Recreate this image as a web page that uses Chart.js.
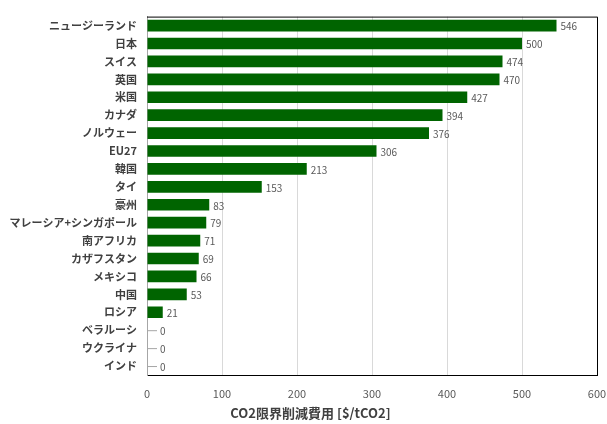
<!DOCTYPE html>
<html>
<head>
<meta charset="utf-8">
<script src="https://cdn.jsdelivr.net/npm/chart.js@4"></script>
<style>
  body { margin: 0; background: #fff; }
  #wrap { width: 607px; height: 424px; }
</style>
</head>
<body>
<div id="wrap"><canvas id="co2Chart"></canvas></div>
<script>
const countries = ['ニュージーランド', '日本', 'スイス', '英国', '米国', 'カナダ', 'ノルウェー', 'EU27', '韓国', 'タイ',
  '豪州', 'マレーシア+シンガポール', '南アフリカ', 'カザフスタン', 'メキシコ', '中国', 'ロシア', 'ベラルーシ', 'ウクライナ', 'インド'];
const costs = [546, 500, 474, 470, 427, 394, 376, 306, 213, 153, 83, 79, 71, 69, 66, 53, 21, 0, 0, 0];
const xTicks = [0, 100, 200, 300, 400, 500, 600];
const axisTitle = 'CO2限界削減費用 [$/tCO2]';

const FONT = '"Noto Sans CJK JP", "Noto Sans", sans-serif';

// value labels at the end of each bar, with a short leader for zero bars
const barLabels = {
  id: 'barLabels',
  afterDatasetsDraw(chart) {
    const ctx = chart.ctx;
    const meta = chart.getDatasetMeta(0);
    ctx.save();
    ctx.font = '10px ' + FONT;
    ctx.fillStyle = '#595959';
    ctx.textBaseline = 'middle';
    meta.data.forEach((bar, i) => {
      const v = costs[i];
      let x = bar.x + 4;
      if (v === 0) {
        ctx.strokeStyle = '#a6a6a6';
        ctx.lineWidth = 1;
        ctx.beginPath();
        ctx.moveTo(bar.x, bar.y + 0.5);
        ctx.lineTo(bar.x + 10, bar.y + 0.5);
        ctx.stroke();
        x = bar.x + 13;
      }
      ctx.fillText(String(v), x, bar.y + 1);
    });
    ctx.restore();
  }
};

// black frame on top and right of the plot area, plus the axis title
const frame = {
  id: 'frame',
  afterDraw(chart) {
    const a = chart.chartArea;
    const ctx = chart.ctx;
    ctx.save();
    ctx.strokeStyle = '#000';
    ctx.lineWidth = 1;
    ctx.beginPath();
    ctx.moveTo(a.left, a.top + 0.5);
    ctx.lineTo(a.right + 0.5, a.top + 0.5);
    ctx.lineTo(a.right + 0.5, a.bottom);
    ctx.stroke();

    ctx.font = 'bold 13px ' + FONT;
    ctx.fillStyle = '#404040';
    ctx.textAlign = 'center';
    ctx.textBaseline = 'middle';
    ctx.fillText(axisTitle, chart.width / 2 + 7, a.bottom + 38);
    ctx.restore();
  }
};

new Chart(document.getElementById('co2Chart'), {
  type: 'bar',
  data: {
    labels: countries,
    datasets: [{
      data: costs,
      backgroundColor: '#006400',
      borderWidth: 0,
      categoryPercentage: 1,
      barPercentage: 0.65
    }]
  },
  options: {
    indexAxis: 'y',
    responsive: true,
    maintainAspectRatio: false,
    animation: false,
    layout: { padding: { top: 13, right: 10, left: 0, bottom: 17 } },
    plugins: {
      legend: { display: false },
      tooltip: { enabled: false }
    },
    scales: {
      x: {
        min: 0,
        max: 600,
        afterBuildTicks(scale) { scale.ticks = xTicks.map(v => ({ value: v })); },
        afterFit(scale) { scale.paddingLeft = 0; scale.paddingRight = 0; scale.height = 32; },
        grid: { color: '#d9d9d9', drawTicks: false },
        border: { color: '#000', width: 1 },
        ticks: { color: '#595959', font: { family: FONT, size: 11 }, padding: 12 }
      },
      y: {
        afterFit(scale) { scale.width = 147; },
        grid: { display: false, drawTicks: false },
        border: { color: '#a6a6a6', width: 1 },
        ticks: { color: '#404040', font: { family: FONT, size: 11, weight: 'bold' }, padding: 10, autoSkip: false }
      }
    }
  },
  plugins: [barLabels, frame]
});
</script>
</body>
</html>
